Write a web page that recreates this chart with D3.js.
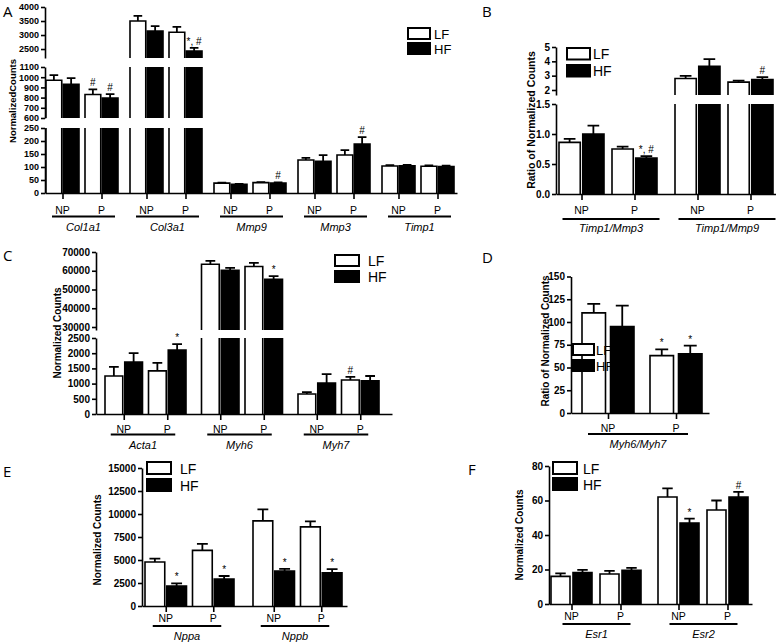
<!DOCTYPE html>
<html><head><meta charset="utf-8">
<script src="https://cdn.jsdelivr.net/npm/d3@7"></script>
<style>body{margin:0;background:#fff}svg{display:block}</style>
</head><body><svg id="c" width="776" height="642"></svg>
<script>
// ---------------- DATA ----------------
const diets = ["LF", "HF"];
const conditions = ["NP", "P"];
// values per gene: [NP-LF, NP-HF, P-LF, P-HF]
const genesA = ["Col1a1", "Col3a1", "Mmp9", "Mmp3", "Timp1"];
const meanA = [[970, 930, 830, 795], [3500, 3140, 3100, 2430], [38, 33, 40, 38], [127, 122, 146, 188], [104, 105, 103, 102]];
const semA  = [[50, 60, 50, 40], [180, 180, 190, 110], [2, 2, 2, 3], [8, 24, 19, 27], [3, 3, 3, 3]];
const sigA  = [["", "", "#", "#"], ["", "", "", "*, #"], ["", "", "", "#"], ["", "", "", "#"], ["", "", "", ""]];
const ticksA = [[0, 50, 100, 150, 200, 250], [600, 700, 800, 900, 1000, 1100], [2500, 3000, 3500, 4000]];

const genesB = ["Timp1/Mmp3", "Timp1/Mmp9"];
const meanB = [[0.86, 1.00, 0.75, 0.60], [2.8, 3.65, 2.55, 2.72]];
const semB  = [[0.06, 0.14, 0.04, 0.03], [0.18, 0.5, 0.1, 0.18]];
const sigB  = [["", "", "", "*, #"], ["", "", "", "#"]];
const ticksB = [[0, 0.5, 1.0, 1.5], [2, 3, 4, 5]];

const genesC = ["Acta1", "Myh6", "Myh7"];
const meanC = [[1250, 1710, 1420, 2100], [63500, 60200, 62300, 55400], [660, 1020, 1120, 1090]];
const semC  = [[300, 290, 260, 200], [1800, 1300, 1900, 1700], [60, 290, 100, 160]];
const sigC  = [["", "", "", "*"], ["", "", "", "*"], ["", "", "#", ""]];
const ticksC = [[0, 500, 1000, 1500, 2000, 2500], [30000, 40000, 50000, 60000, 70000]];

const genesD = ["Myh6/Myh7"];
const meanD = [[110, 95, 63, 65]];
const semD  = [[10, 23, 7, 9]];
const sigD  = [["", "", "*", "*"]];
const ticksD = [[0, 25, 50, 75, 100, 125, 150]];

const genesE = ["Nppa", "Nppb"];
const meanE = [[4780, 2180, 6050, 2930], [9250, 3800, 8600, 3600]];
const semE  = [[380, 280, 700, 330], [1250, 230, 600, 400]];
const sigE  = [["", "*", "", "*"], ["", "*", "", "*"]];
const ticksE = [[0, 2500, 5000, 7500, 10000, 12500, 15000]];

const genesF = ["Esr1", "Esr2"];
const meanF = [[16, 18.3, 17.4, 19.6], [62, 47, 54.5, 62]];
const semF  = [[1.8, 1.5, 1.8, 1.4], [5, 2.5, 5.5, 3]];
const sigF  = [["", "", "", ""], ["", "*", "", "#"]];
const ticksF = [[0, 20, 40, 60, 80]];

// ---------------- DRAW ----------------
const svg = d3.select("#c");
const SANS = "'Liberation Sans', Arial, sans-serif";

function panel(p) {
  const g = svg.append("g");
  const segs = p.segs.map(s => ({...s, y: d3.scaleLinear().domain(s.domain).range(s.range)}));
  segs.forEach(s => {
    const ax = d3.axisLeft(s.y).tickValues(s.ticks).tickSize(4).tickSizeOuter(0).tickFormat(p.fmt || d3.format("d"));
    const a = g.append("g").attr("transform", `translate(${p.ax0},0)`).call(ax);
    a.selectAll("path").attr("stroke", "#000").attr("stroke-width", 1.6);
    a.selectAll("line").attr("stroke", "#000").attr("stroke-width", 1.6);
    a.selectAll("text").attr("font-family", SANS).attr("font-weight", "bold")
      .attr("font-size", p.tickFont).attr("fill", "#000").attr("x", -6);
  });
  const n = p.genes.length;
  const x0 = d3.scaleBand().domain(p.genes)
    .range([p.start, p.start + p.step * (n - 1) + p.width])
    .paddingInner(n > 1 ? (p.step - p.width) / p.step : 0).paddingOuter(0);
  const pairW = (p.width - p.pairGap) / 2;
  const x1 = d3.scaleBand().domain(conditions).range([0, x0.bandwidth()])
    .paddingInner(p.pairGap / (pairW + p.pairGap)).paddingOuter(0);
  const barW = (x1.bandwidth() - p.barGap) / 2;
  const x2 = d3.scaleBand().domain(diets).range([0, x1.bandwidth()])
    .paddingInner(p.barGap / (barW + p.barGap)).paddingOuter(0);

  p.genes.forEach((gene, gi) => {
    conditions.forEach((cond, ci) => {
      diets.forEach((diet, di) => {
        const k = ci * 2 + di;
        const m = p.mean[gi][k], e = p.sem[gi][k], sg = p.sig[gi][k];
        const x = x0(gene) + x1(cond) + x2(diet);
        const w = x2.bandwidth();
        const fill = diet === "HF" ? "#000" : "#fff";
        segs.forEach((s, si) => {
          if (si > 0 && m <= s.domain[0]) return;
          const top = Math.min(m, s.domain[1]);
          const yb = s.y(s.domain[0]), yt = s.y(top);
          g.append("rect").attr("x", x).attr("y", yt).attr("width", w).attr("height", yb - yt).attr("fill", fill);
          const inside = m <= s.domain[1];
          let d = `M${x},${yb}V${yt}`;
          if (inside) d += `H${x + w}`; else d += `M${x + w},${yt}`;
          d += `V${yb}`;
          g.append("path").attr("d", d).attr("fill", "none").attr("stroke", "#000").attr("stroke-width", 1.6);
          if (inside && m >= s.domain[0]) {
            const ye = s.y(m + e);
            const cx = x + w / 2, cw = w * 0.55;
            g.append("path").attr("d", `M${cx},${yt}V${ye}M${cx - cw / 2},${ye}H${cx + cw / 2}`)
              .attr("fill", "none").attr("stroke", "#000").attr("stroke-width", 1.8);
            if (sg) {
              g.append("text").attr("x", cx).attr("y", ye - 3).attr("text-anchor", "middle")
                .attr("opacity", 0.999)
                .attr("font-family", SANS).attr("font-size", p.sigFont).attr("fill", "#000").text(sg);
            }
          }
        });
      });
    });
  });

  const tickPos = [];
  p.genes.forEach(gene => conditions.forEach(c => tickPos.push(x0(gene) + x1(c) + x1.bandwidth() / 2)));
  const xl = d3.scaleLinear().domain([p.ax0, p.ax1]).range([p.ax0, p.ax1]);
  const xa = g.append("g").attr("transform", `translate(0,${p.baseY})`)
    .call(d3.axisBottom(xl).tickValues(tickPos).tickSize(6).tickSizeOuter(0).tickFormat(""));
  xa.selectAll("path,line").attr("stroke", "#000").attr("stroke-width", 1.6);

  p.genes.forEach(gene => {
    const tNP = x0(gene) + x1("NP") + x1.bandwidth() / 2;
    const tP = x0(gene) + x1("P") + x1.bandwidth() / 2;
    conditions.forEach(c => {
      g.append("text").attr("x", x0(gene) + x1(c) + x1.bandwidth() / 2).attr("y", p.baseY + p.lblDy)
        .attr("text-anchor", "middle").attr("font-family", SANS).attr("font-size", p.lblFont).text(c);
    });
    const u0 = tNP - p.ulA, u1 = tP + p.ulB;
    g.append("line").attr("x1", u0).attr("x2", u1).attr("y1", p.baseY + p.ulDy).attr("y2", p.baseY + p.ulDy)
      .attr("stroke", "#000").attr("stroke-width", 1.8);
    g.append("text").attr("x", (u0 + u1) / 2).attr("y", p.baseY + p.geneDy).attr("text-anchor", "middle")
      .attr("font-family", SANS).attr("font-style", "italic").attr("font-size", p.geneFont).text(gene);
  });

  g.append("text").attr("transform", `translate(${p.titleX},${p.titleY}) rotate(-90)`)
    .attr("text-anchor", "middle").attr("font-family", SANS).attr("font-weight", "bold")
    .attr("font-size", p.titleFont).text(p.title);

  const L = p.legend;
  diets.forEach((d, i) => {
    const y = L.y + i * L.dy;
    g.append("rect").attr("x", L.x).attr("y", y).attr("width", L.w).attr("height", L.h)
      .attr("fill", d === "HF" ? "#000" : "#fff").attr("stroke", "#000").attr("stroke-width", 2);
    g.append("text").attr("x", L.x + L.w + L.tx).attr("y", y + L.h - 0.5).attr("font-family", SANS)
      .attr("font-size", L.font).text(d);
  });

  g.append("text").attr("x", p.letter[1]).attr("y", p.letter[2]).attr("font-family", "'Open Sans', sans-serif")
    .attr("font-size", 15).text(p.letter[0]);
}

panel({
  genes: genesA, mean: meanA, sem: semA, sig: sigA,
  segs: [{domain: [0, 250], range: [193, 128], ticks: ticksA[0]},
         {domain: [600, 1100], range: [118, 67], ticks: ticksA[1]},
         {domain: [2180, 4000], range: [58, 7], ticks: ticksA[2]}],
  ax0: 45, ax1: 457, baseY: 193, start: 46, step: 84, width: 72, pairGap: 6, barGap: 1.5,
  tickFont: 9, sigFont: 10, lblFont: 10.5, geneFont: 11, lblDy: 20.5, ulDy: 23.5, geneDy: 37.5, ulA: 10.5, ulB: 13.5,
  title: "NormalizedCounts", titleX: 16, titleY: 101, titleFont: 9.5,
  legend: {x: 408, y: 28, dy: 15, w: 22, h: 11, tx: 4, font: 13},
  letter: ["A", 3, 17]
});

panel({
  genes: genesB, mean: meanB, sem: semB, sig: sigB, fmt: (v) => v >= 2 ? d3.format("d")(v) : d3.format(".1f")(v),
  segs: [{domain: [0, 1.5], range: [194, 104], ticks: ticksB[0]},
         {domain: [1.65, 5], range: [95, 47], ticks: ticksB[1]}],
  ax0: 556, ax1: 776, baseY: 194, start: 559, step: 116, width: 98, pairGap: 8, barGap: 2.5,
  tickFont: 10, sigFont: 10, lblFont: 10.5, geneFont: 11, lblDy: 19.5, ulDy: 25, geneDy: 38, ulA: 19, ulB: 25,
  title: "Ratio of Normalized Counts", titleX: 535, titleY: 120, titleFont: 10.5,
  legend: {x: 567, y: 48, dy: 17, w: 23, h: 11.5, tx: 3, font: 14},
  letter: ["B", 482, 17]
});

panel({
  genes: genesC, mean: meanC, sem: semC, sig: sigC,
  segs: [{domain: [0, 2500], range: [414, 338], ticks: ticksC[0]},
         {domain: [28400, 70000], range: [330, 252], ticks: ticksC[1]}],
  ax0: 96, ax1: 392, baseY: 414, start: 105, step: 96.5, width: 81, pairGap: 6, barGap: 2,
  tickFont: 10, sigFont: 10, lblFont: 10.5, geneFont: 11, lblDy: 18.5, ulDy: 20.5, geneDy: 35, ulA: 13, ulB: 8,
  title: "Normalized Counts", titleX: 61, titleY: 333, titleFont: 10,
  legend: {x: 335, y: 255, dy: 16, w: 24, h: 11, tx: 9, font: 14},
  letter: ["C", 3, 261]
});

panel({
  genes: genesD, mean: meanD, sem: semD, sig: sigD,
  segs: [{domain: [0, 150], range: [413, 276.5], ticks: ticksD[0]}],
  ax0: 571, ax1: 709, baseY: 413, start: 582, step: 120, width: 120, pairGap: 16, barGap: 5,
  tickFont: 10, sigFont: 10, lblFont: 10.5, geneFont: 11, lblDy: 19, ulDy: 21, geneDy: 35, ulA: 20, ulB: 12,
  title: "Ratio of Normalized Counts", titleX: 549, titleY: 341, titleFont: 10,
  legend: {x: 573, y: 344, dy: 16, w: 21, h: 11, tx: 2, font: 13},
  letter: ["D", 482, 263]
});

panel({
  genes: genesE, mean: meanE, sem: semE, sig: sigE,
  segs: [{domain: [0, 15000], range: [606, 468], ticks: ticksE[0]}],
  ax0: 142, ax1: 347, baseY: 606, start: 145, step: 108, width: 89, pairGap: 6, barGap: 2,
  tickFont: 10, sigFont: 10, lblFont: 10.5, geneFont: 11, lblDy: 16, ulDy: 20, geneDy: 34, ulA: 13, ulB: 8,
  title: "Normalized Counts", titleX: 101, titleY: 540, titleFont: 10,
  legend: {x: 147, y: 462, dy: 17, w: 24, h: 12, tx: 9, font: 14},
  letter: ["E", 3, 477]
});

panel({
  genes: genesF, mean: meanF, sem: semF, sig: sigF,
  segs: [{domain: [0, 80], range: [604, 466], ticks: ticksF[0]}],
  ax0: 549, ax1: 752, baseY: 604, start: 551, step: 107, width: 90, pairGap: 8, barGap: 3,
  tickFont: 10, sigFont: 10, lblFont: 10.5, geneFont: 11, lblDy: 16, ulDy: 20, geneDy: 34, ulA: 9, ulB: 10,
  title: "Normalized Counts", titleX: 523, titleY: 535, titleFont: 10,
  legend: {x: 553, y: 462, dy: 16, w: 24, h: 12, tx: 6, font: 14},
  letter: ["F", 468, 475]
});
</script>
</body></html>
